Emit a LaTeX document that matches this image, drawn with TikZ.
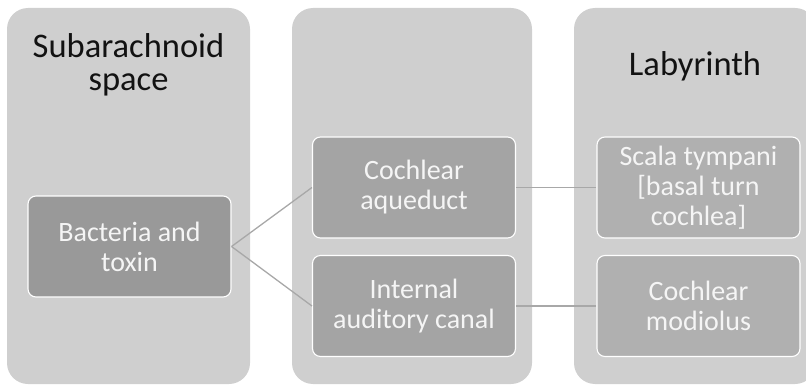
\documentclass[tikz,border=0pt]{standalone}
\usepackage{fontspec}
\setmainfont{Carlito}
\definecolor{panelgray}{RGB}{207,207,207}
\definecolor{cellA}{RGB}{153,153,153}
\definecolor{cellB}{RGB}{164,164,164}
\definecolor{cellC}{RGB}{176,176,176}
\definecolor{linkgray}{RGB}{168,168,168}
\tikzset{
  panel/.style={fill=panelgray, rounded corners=21pt},
  header/.style={inner sep=0pt, align=center, text=black!93,
    font=\fontsize{34.5}{33}\selectfont},
  cell/.style={draw=white, line width=1.1pt, rounded corners=8pt,
    minimum width=203pt, minimum height=101pt, inner sep=0pt,
    align=center, text=white!96!black, font=\fontsize{28}{30}\selectfont},
  link/.style={draw=linkgray, line width=1.3pt}
}
\begin{document}
\begin{tikzpicture}[x=1pt,y=-1pt]
\useasboundingbox (0,0) rectangle (806,385);
\clip (0,0) rectangle (806,385);
% three columns
\fill[panel] (7,8) rectangle (250,384);
\fill[panel] (292,8) rectangle (532,384);
\fill[panel] (574,8) rectangle (816,384);
\node[header] (sub) at (128.5,65) {Subarachnoid\\space};
\node[header] (lab) at (695,66) {Labyrinth};
% boxes
\node[cell, fill=cellA] (bact) at (129.5,246.5) {Bacteria and\\toxin};
\node[cell, fill=cellB] (aqu) at (414,187.5) {Cochlear\\aqueduct};
\node[cell, fill=cellB] (iac) at (414,306) {Internal\\auditory canal};
\node[cell, fill=cellC] (scala) at (698.5,187.5) {Scala tympani\\{[}basal turn\\cochlea{]}};
\node[cell, fill=cellC] (mod) at (698.5,306) {Cochlear\\modiolus};
% links
\draw[link] (bact.east) -- (aqu.west);
\draw[link] (bact.east) -- (iac.west);
\draw[link] (aqu.east) -- (scala.west);
\draw[link] (iac.east) -- (mod.west);
\end{tikzpicture}
\end{document}
